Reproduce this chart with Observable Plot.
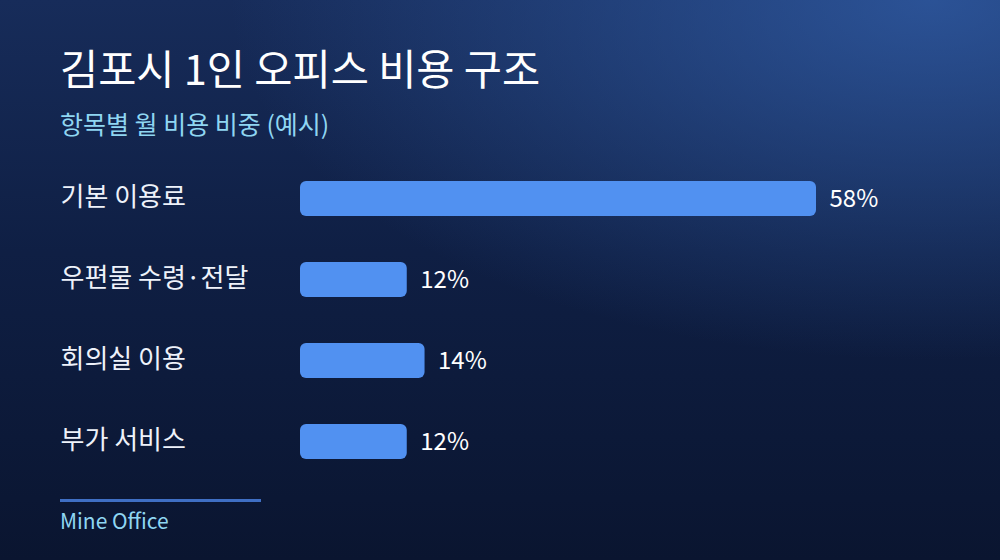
<!DOCTYPE html>
<html><head><meta charset="utf-8">
<script src="https://cdn.jsdelivr.net/npm/d3@7"></script>
<script src="https://cdn.jsdelivr.net/npm/@observablehq/plot@0.6"></script>
<style>
html,body{margin:0;padding:0;}
body{width:1000px;height:560px;overflow:hidden;font-family:"Noto Sans CJK KR","Noto Sans",sans-serif;
background:
 radial-gradient(ellipse 700px 360px at 930px 0px, rgba(50,95,170,0.75), rgba(50,95,170,0) 100%),
 linear-gradient(180deg,#172c5a 0%,#0f1f44 45%,#0a1530 100%);
color:#fff;position:relative;}
#head{height:150px;position:relative;}
#title{position:absolute;left:60px;top:47px;font-size:41.5px;font-weight:400;color:#ffffff;line-height:1;white-space:nowrap;}
#sub{position:absolute;left:60px;top:111px;font-size:25px;color:#8fd6f2;line-height:1;white-space:nowrap;}
#chart{height:340px;}
#foot{position:relative;height:70px;}
#rule{position:absolute;left:60px;top:9px;width:201px;height:3px;background:#3f6fc4;}
#src{position:absolute;left:60px;top:19px;font-size:21px;color:#8fd6f2;line-height:1.1;}
svg{background:transparent;overflow:visible;}
</style></head>
<body>
<div id="head"><div id="title">김포시 1인 오피스 비용 구조</div><div id="sub">항목별 월 비용 비중 (예시)</div></div>
<div id="chart"></div>
<div id="foot"><div id="rule"></div><div id="src">Mine Office</div></div>
<script>
const categories = ["기본 이용료", "우편물 수령·전달", "회의실 이용", "부가 서비스"];
const shares = [58, 12, 14, 12];
const data = categories.map((c, i) => ({category: c, share: shares[i]}));

const chart = Plot.plot({
  width: 1000,
  height: 340,
  marginLeft: 300,
  marginRight: 184,
  marginTop: 29.5,
  marginBottom: 29.5,
  style: {background: "transparent", fontFamily: "'Noto Sans CJK KR','Noto Sans',sans-serif", overflow: "visible"},
  x: {domain: [0, 58], axis: null},
  y: {domain: categories, axis: null, paddingInner: 0.573, paddingOuter: 0},
  marks: [
    Plot.barX(data, {x: "share", y: "category", fill: "#5191f1", rx: 6}),
    Plot.text(data, {y: "category", text: "category", frameAnchor: "left", dx: -240, dy: -1, textAnchor: "start", fill: "#eef2fa", fontSize: 26}),
    Plot.text(data, {x: "share", y: "category", text: d => d.share + "%", dx: 13, textAnchor: "start", fill: "#ffffff", fontSize: 24})
  ]
});
document.getElementById("chart").appendChild(chart);
</script>
</body></html>
